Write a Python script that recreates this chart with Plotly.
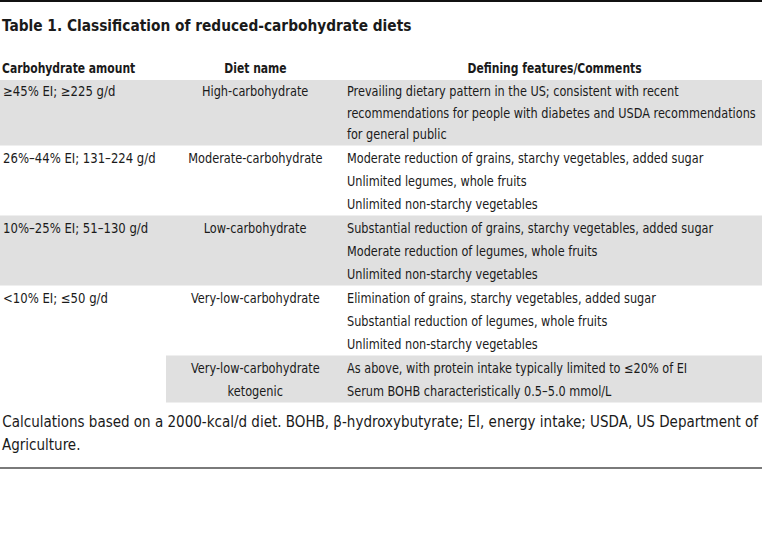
import json
import plotly.graph_objects as go

# ---------------- data ----------------
title = "Table 1. Classification of reduced-carbohydrate diets"
headers = ["Carbohydrate amount", "Diet name", "Defining features/Comments"]
carb_amounts = ["≥45% EI; ≥225 g/d", "26%–44% EI; 131–224 g/d",
                "10%–25% EI; 51–130 g/d", "<10% EI; ≤50 g/d", ""]
diet_names = [["High-carbohydrate"], ["Moderate-carbohydrate"], ["Low-carbohydrate"],
              ["Very-low-carbohydrate"], ["Very-low-carbohydrate", "ketogenic"]]
features = [
    ["Prevailing dietary pattern in the US; consistent with recent",
     "recommendations for people with diabetes and USDA recommendations",
     "for general public"],
    ["Moderate reduction of grains, starchy vegetables, added sugar",
     "Unlimited legumes, whole fruits",
     "Unlimited non-starchy vegetables"],
    ["Substantial reduction of grains, starchy vegetables, added sugar",
     "Moderate reduction of legumes, whole fruits",
     "Unlimited non-starchy vegetables"],
    ["Elimination of grains, starchy vegetables, added sugar",
     "Substantial reduction of legumes, whole fruits",
     "Unlimited non-starchy vegetables"],
    ["As above, with protein intake typically limited to ≤20% of EI",
     "Serum BOHB characteristically 0.5–5.0 mmol/L"],
]
wrapped_rows = [True, False, False, False, False]
shaded_rows = [True, False, True, False, True]
subrow_of_previous = [False, False, False, False, True]
footnote = ["Calculations based on a 2000-kcal/d diet. BOHB, β-hydroxybutyrate; EI, energy intake; USDA, US Department of",
            "Agriculture."]

# ---------------- layout constants ----------------
W, H = 762, 543
FONT = "DejaVu Sans Condensed, sans-serif"
TXT = "#1a1a1a"
GREY = "#e0e0e0"
COL1_X, COL2_CX, COL2_LEFT, COL3_X, COL3_CX = 1, 255, 166, 345, 554
TITLE_Y, HEADER_Y, BODY_TOP = 26, 67, 80
STEP_PARA, STEP_WRAP, PAD = 23, 21.5, 0.5
FOOT_Y, FOOT_STEP, RULE_Y = 422, 23, 468
# (font size, horizontal condensing factor) per text role
STYLE = {
    "title": (15.6, 0.98),
    "header": (14.8, 0.81),
    "col1": (13.8, 0.94),
    "diet": (13.8, 0.915),
    "body": (13.8, 0.91),
    "foot": (15.4, 0.975),
}

fig = go.Figure()
fig.add_trace(go.Scatter(x=[0, W], y=[0, H], mode="markers",
                         marker=dict(opacity=0), hoverinfo="skip", showlegend=False))

ann = []
shapes = []
squeeze = []  # [anchor, factor] for each annotation, applied in the browser

def text(x, y, s, role="body", bold=False, anchor="left"):
    size, sx = STYLE[role]
    ann.append(dict(x=x, y=y, xref="x", yref="y", text=f"<b>{s}</b>" if bold else s,
                    showarrow=False, xanchor=anchor, yanchor="middle",
                    font=dict(family=FONT, size=size, color=TXT)))
    squeeze.append([anchor, sx])

# top rule
shapes.append(dict(type="line", xref="x", yref="y", x0=0, x1=W, y0=1, y1=1,
                   line=dict(color="#111111", width=2)))
text(0, TITLE_Y, title, role="title", bold=True)
text(0, HEADER_Y, headers[0], role="header", bold=True)
text(COL2_CX, HEADER_Y, headers[1], role="header", bold=True, anchor="center")
text(COL3_CX, HEADER_Y, headers[2], role="header", bold=True, anchor="center")

top = BODY_TOP
for i in range(len(features)):
    step = STEP_WRAP if wrapped_rows[i] else STEP_PARA
    n = max(len(features[i]), len(diet_names[i]))
    bottom = top + PAD * 2 + n * step
    if shaded_rows[i]:
        x0 = COL2_LEFT if subrow_of_previous[i] else 0
        shapes.append(dict(type="rect", xref="x", yref="y", x0=x0, x1=W, y0=top, y1=bottom,
                           fillcolor=GREY, line=dict(width=0), layer="below"))
    ys = [top + PAD + step * (k + 0.5) for k in range(n)]
    if carb_amounts[i]:
        text(COL1_X, ys[0], carb_amounts[i], role="col1")
    for k, s in enumerate(diet_names[i]):
        text(COL2_CX, ys[k], s, role="diet", anchor="center")
    for k, s in enumerate(features[i]):
        text(COL3_X, ys[k], s, role="body")
    top = bottom

for k, s in enumerate(footnote):
    text(0, FOOT_Y + k * FOOT_STEP, s, role="foot")

shapes.append(dict(type="line", xref="x", yref="y", x0=0, x1=W, y0=RULE_Y, y1=RULE_Y,
                   line=dict(color="#7a7a7a", width=2)))

fig.update_layout(
    width=W, height=H, margin=dict(l=0, r=0, t=0, b=0),
    paper_bgcolor="white", plot_bgcolor="white",
    xaxis=dict(range=[0, W], visible=False, fixedrange=True),
    yaxis=dict(range=[H, 0], visible=False, fixedrange=True),
    annotations=ann, shapes=shapes, showlegend=False,
)

post = """
document.body.style.margin='0';document.body.style.overflow='hidden';
var sq = %s;
document.querySelectorAll('g.annotation').forEach(function(g){
  var i = +g.getAttribute('data-index');
  var t = g.querySelector('text.annotation-text');
  if (!t || !sq[i]) return;
  var b = t.getBBox();
  var cx = sq[i][0] === 'left' ? b.x : b.x + b.width / 2;
  t.setAttribute('transform', 'translate(' + cx + ',0) scale(' + sq[i][1] + ',1) translate(' + (-cx) + ',0)');
});
""" % json.dumps(squeeze)

fig.write_html("out.html", config={"displayModeBar": False}, post_script=post)
